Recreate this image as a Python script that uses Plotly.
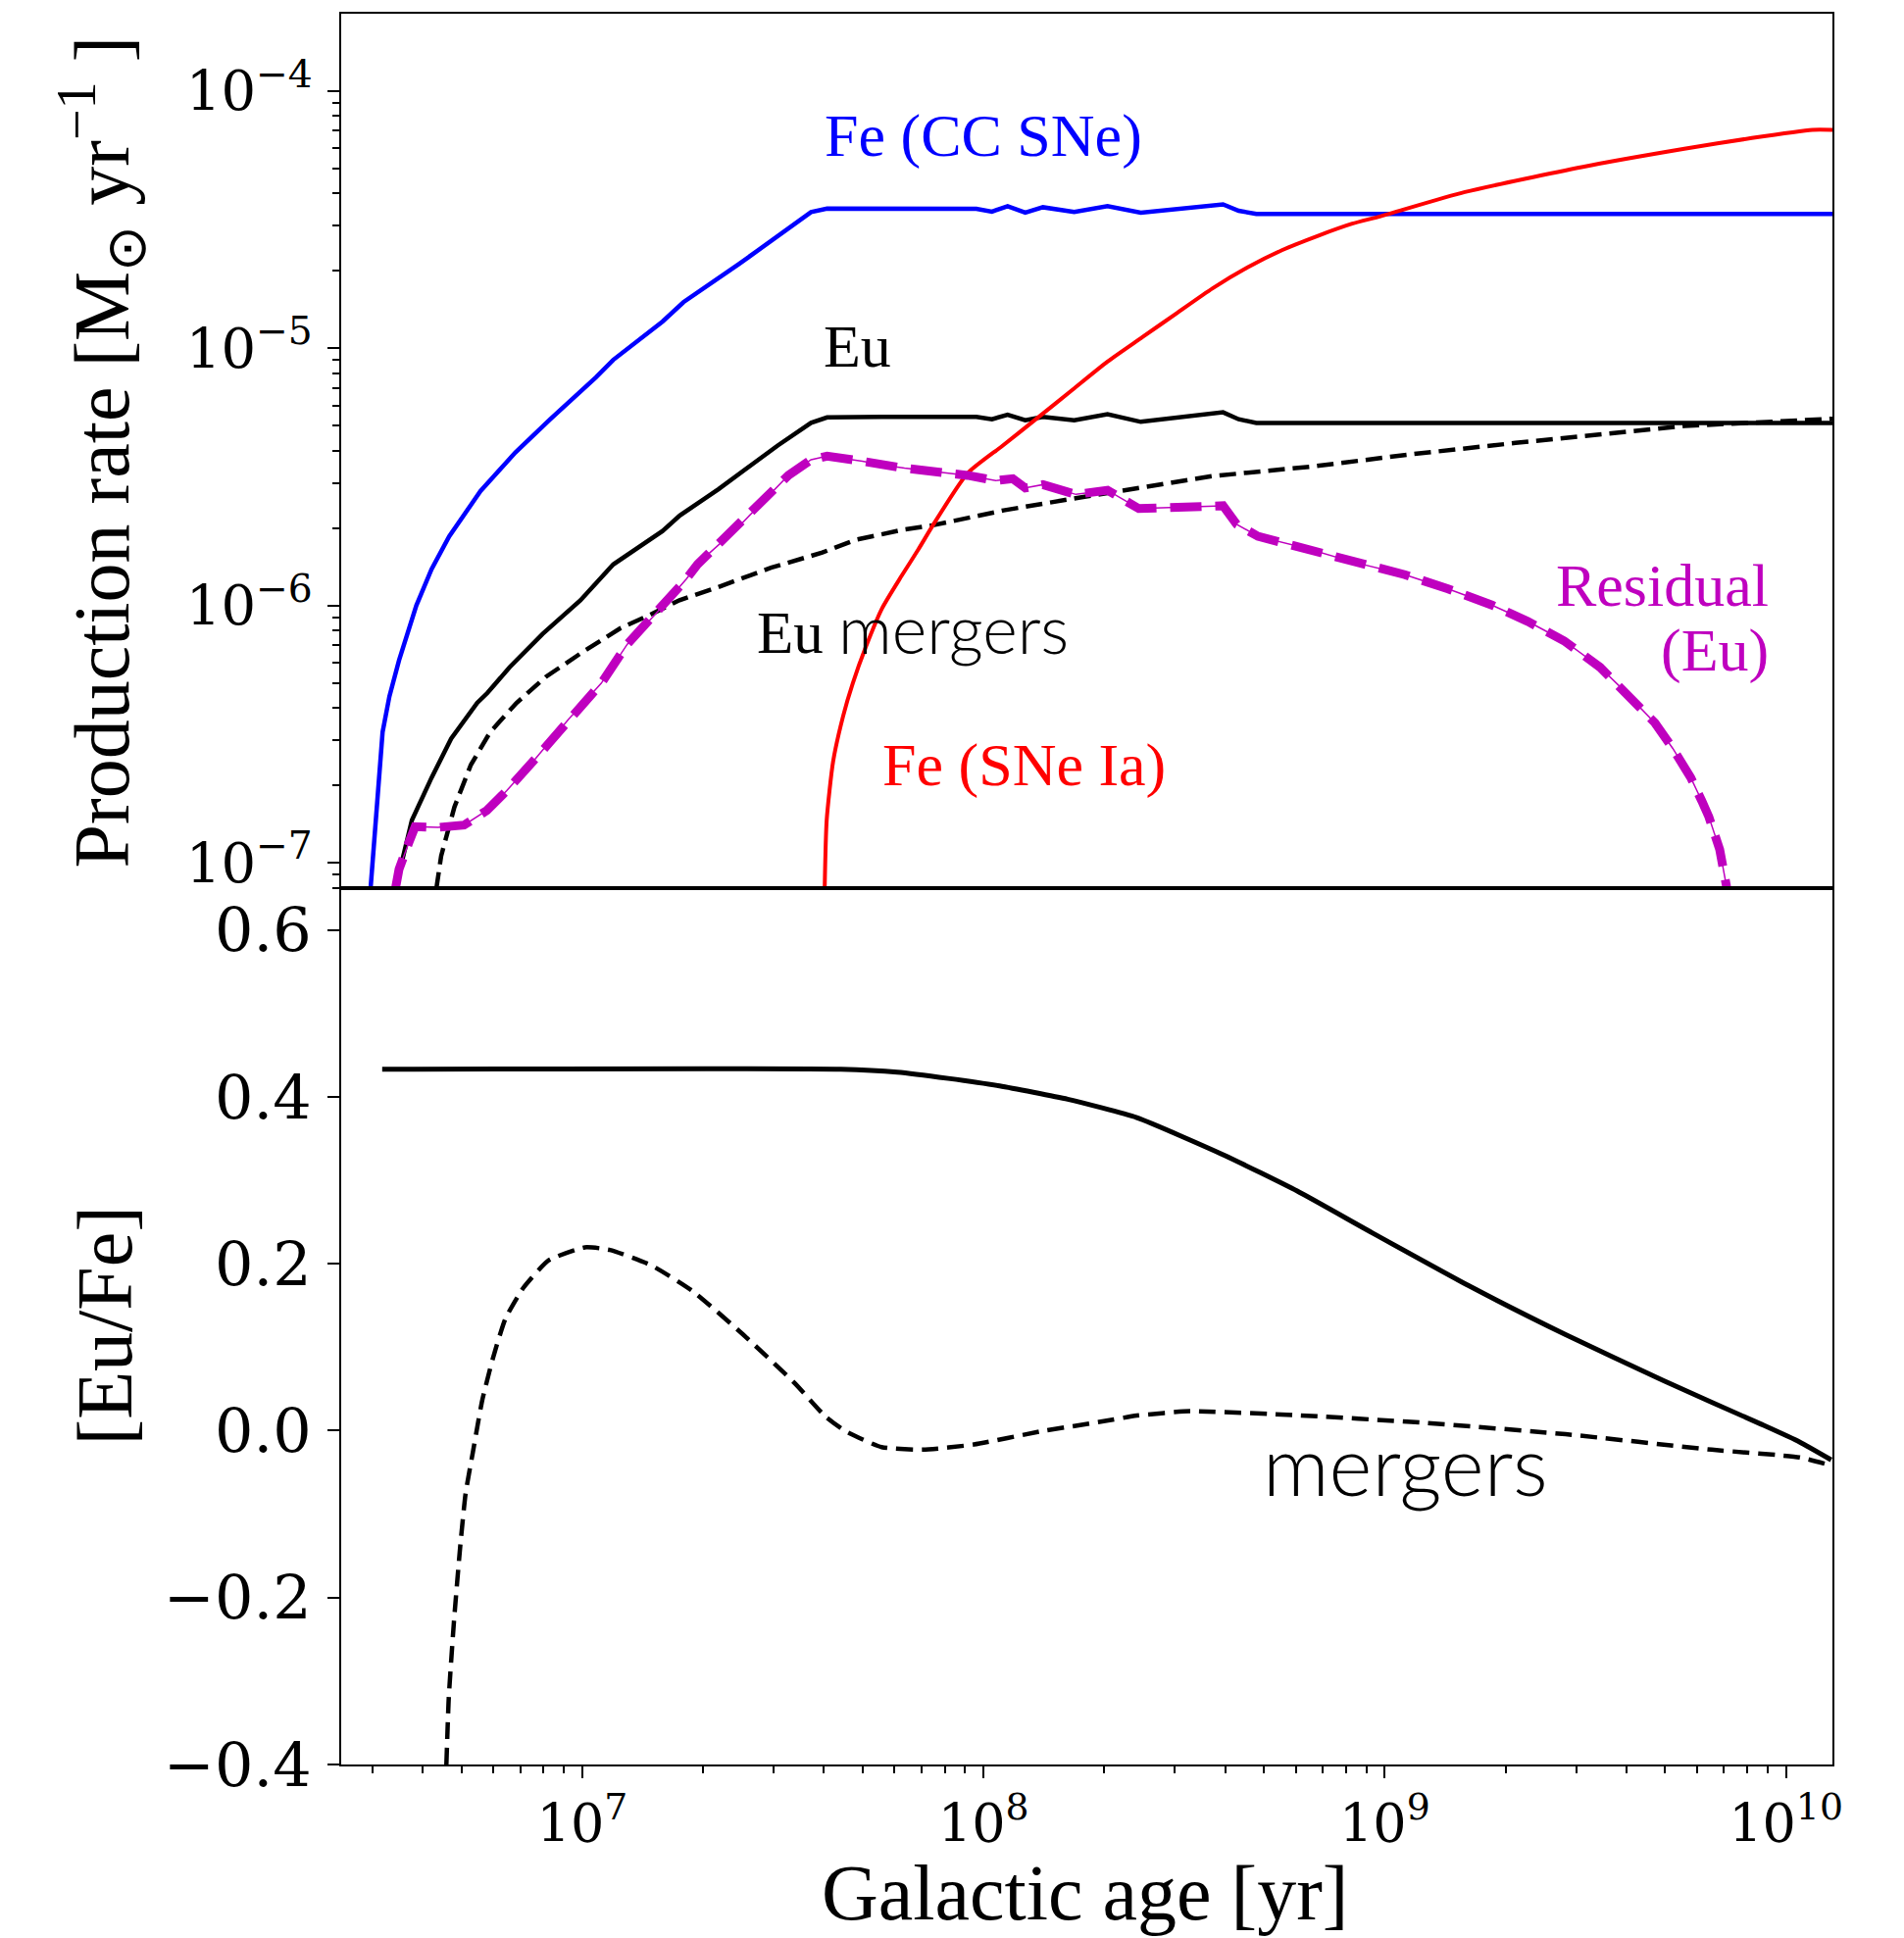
import numpy as np
import plotly.graph_objects as go

# ---------------- data ----------------
# Top panel: production rates, stored as log10(age/yr) and log10(rate / Msun yr^-1)
fe_cc_log_age = [6.472, 6.502, 6.519, 6.543, 6.586, 6.624, 6.668, 6.746, 6.833, 6.920,
                 7.034, 7.077, 7.200, 7.252, 7.391, 7.570, 7.610, 7.747, 7.982, 8.021,
                 8.060, 8.104, 8.148, 8.226, 8.309, 8.392, 8.597, 8.636, 8.680, 10.116]
fe_cc_log_rate = [-7.10, -6.492, -6.353, -6.213, -6.000, -5.859, -5.731, -5.555, -5.405, -5.276,
                  -5.113, -5.045, -4.896, -4.821, -4.672, -4.471, -4.457, -4.457, -4.458, -4.469,
                  -4.448, -4.473, -4.452, -4.470, -4.448, -4.473, -4.441, -4.466, -4.478, -4.478]

eu_log_age = [6.534, 6.575, 6.624, 6.673, 6.738, 6.763, 6.819, 6.901, 6.995, 7.077,
              7.200, 7.243, 7.339, 7.487, 7.570, 7.610, 7.747, 7.982, 8.021, 8.060,
              8.104, 8.148, 8.226, 8.309, 8.392, 8.597, 8.636, 8.680, 10.116]
eu_log_rate = [-7.10, -6.834, -6.669, -6.517, -6.378, -6.340, -6.239, -6.110, -5.980, -5.840,
               -5.710, -5.650, -5.548, -5.378, -5.290, -5.269, -5.267, -5.267, -5.276, -5.258,
               -5.280, -5.267, -5.280, -5.256, -5.286, -5.249, -5.276, -5.290, -5.290]

eu_merg_log_age = [6.636, 6.648, 6.681, 6.722, 6.770, 6.836, 6.909, 7.003, 7.096, 7.163,
                   7.242, 7.308, 7.339, 7.470, 7.598, 7.680, 7.800, 7.873, 8.050, 8.221,
                   8.570, 8.822, 9.066, 9.326, 9.747, 10.116]
eu_merg_log_rate = [-7.10, -6.973, -6.783, -6.619, -6.492, -6.378, -6.277, -6.178, -6.087, -6.040,
                    -5.979, -5.945, -5.928, -5.853, -5.794, -5.745, -5.705, -5.688, -5.630, -5.585,
                    -5.497, -5.459, -5.412, -5.368, -5.302, -5.274]

resid_log_age = [6.534, 6.543, 6.567, 6.583, 6.640, 6.705, 6.762, 6.811, 6.884, 6.966,
                 7.047, 7.112, 7.194, 7.259, 7.287, 7.308, 7.383, 7.514, 7.570, 7.610,
                 7.698, 7.747, 7.803, 7.960, 8.030, 8.073, 8.104, 8.148, 8.230, 8.309,
                 8.387, 8.597, 8.631, 8.684, 8.806, 8.919, 9.050, 9.158, 9.267, 9.356,
                 9.447, 9.537, 9.583, 9.673, 9.718, 9.763, 9.790, 9.808, 9.835, 9.853]
resid_log_rate = [-7.10, -7.024, -6.923, -6.859, -6.862, -6.853, -6.796, -6.720, -6.593, -6.441,
                  -6.302, -6.150, -6.013, -5.897, -5.840, -5.808, -5.704, -5.493, -5.433, -5.419,
                  -5.439, -5.453, -5.466, -5.494, -5.514, -5.507, -5.543, -5.530, -5.568, -5.552,
                  -5.623, -5.612, -5.684, -5.731, -5.778, -5.830, -5.880, -5.935, -5.998, -6.061,
                  -6.137, -6.240, -6.310, -6.455, -6.555, -6.669, -6.758, -6.821, -6.948, -7.10]

fe_ia_log_age = [7.604, 7.609, 7.625, 7.650, 7.674, 7.706, 7.747, 7.796, 7.837, 7.873,
                 7.960, 8.048, 8.135, 8.222, 8.309, 8.396, 8.483, 8.571, 8.658, 8.745,
                 8.832, 8.919, 8.990, 9.200, 9.494, 9.747, 9.915, 10.066, 10.116]
fe_ia_log_rate = [-7.10, -6.834, -6.606, -6.429, -6.302, -6.163, -6.011, -5.884, -5.783, -5.690,
                  -5.486, -5.378, -5.270, -5.161, -5.052, -4.957, -4.862, -4.767, -4.686, -4.618,
                  -4.564, -4.516, -4.487, -4.393, -4.295, -4.225, -4.183, -4.151, -4.151]

# Bottom panel: [Eu/Fe]
eufe_log_age = [6.501, 7.644, 7.785, 7.912, 8.040, 8.210, 8.382, 8.600, 8.782, 8.965,
                9.208, 9.451, 9.694, 9.937, 10.034, 10.113]
eufe_total = [0.433, 0.433, 0.4295, 0.422, 0.413, 0.397, 0.375, 0.330, 0.287, 0.238,
              0.174, 0.115, 0.060, 0.008, -0.0135, -0.035]

eufe_merg_log_age = [6.661, 6.667, 6.680, 6.696, 6.709, 6.727, 6.750, 6.776, 6.808, 6.852,
                     6.916, 7.006, 7.069, 7.172, 7.274, 7.401, 7.529, 7.606, 7.657, 7.746,
                     7.849, 7.976, 8.142, 8.296, 8.382, 8.515, 8.782, 9.086, 9.451, 9.815,
                     10.034, 10.107]
eufe_merg = [-0.40, -0.320, -0.228, -0.136, -0.075, -0.026, 0.0355, 0.085, 0.134, 0.1705,
             0.204, 0.2196, 0.2165, 0.198, 0.1675, 0.115, 0.057, 0.017, -0.001, -0.0197,
             -0.0228, -0.0166, -0.001, 0.011, 0.018, 0.0233, 0.0184, 0.0098, -0.0043, -0.0228,
             -0.032, -0.041]

# ticks
x_major = [1e7, 1e8, 1e9, 1e10]
x_major_text = ["10<sup>7</sup>", "10<sup>8</sup>", "10<sup>9</sup>", "10<sup>10</sup>"]
x_minor = [m * 10 ** e for e in range(6, 11) for m in range(2, 10)]
y1_major = [1e-7, 1e-6, 1e-5, 1e-4]
y1_major_text = ["10<sup>−7</sup>", "10<sup>−6</sup>", "10<sup>−5</sup>", "10<sup>−4</sup>"]
y1_minor = [m * 10.0 ** e for e in range(-8, -3) for m in range(2, 10)]
y2_major = [-0.4, -0.2, 0.0, 0.2, 0.4, 0.6]
y2_major_text = ["−0.4", "−0.2", "0.0", "0.2", "0.4", "0.6"]

# ---------------- figure ----------------
W, H = 1942, 1977
OFF = 8  # default page body margin
ML, MR, MT, MB = 340, 81, 4, 185
PW, PH = W - ML - MR, H - MT - MB
split = (H - MB - (905 - OFF)) / PH

BLUE, RED, MAG = "#0000ff", "#ff0000", "#bf00bf"
SERIF = "Liberation Serif"
TICKF = "DejaVu Serif"

def p10(a):
    return list(10.0 ** np.array(a))

fig = go.Figure()
fig.add_trace(go.Scatter(x=p10(fe_cc_log_age), y=p10(fe_cc_log_rate), mode="lines",
                         line=dict(color=BLUE, width=4.5), xaxis="x", yaxis="y"))
fig.add_trace(go.Scatter(x=p10(eu_log_age), y=p10(eu_log_rate), mode="lines",
                         line=dict(color="black", width=4.5), xaxis="x", yaxis="y"))
fig.add_trace(go.Scatter(x=p10(eu_merg_log_age), y=p10(eu_merg_log_rate), mode="lines",
                         line=dict(color="black", width=4.5, dash="17px,8px"), xaxis="x", yaxis="y"))
fig.add_trace(go.Scatter(x=p10(fe_ia_log_age), y=p10(fe_ia_log_rate), mode="lines", line_shape="spline",
                         line=dict(color=RED, width=4, smoothing=0.6), xaxis="x", yaxis="y"))
fig.add_trace(go.Scatter(x=p10(resid_log_age), y=p10(resid_log_rate), mode="lines",
                         line=dict(color=MAG, width=9, dash="32px,14px"), xaxis="x", yaxis="y"))
fig.add_trace(go.Scatter(x=p10(resid_log_age), y=p10(resid_log_rate), mode="lines",
                         line=dict(color=MAG, width=1.5), xaxis="x", yaxis="y"))

fig.add_trace(go.Scatter(x=p10(eufe_log_age), y=eufe_total, mode="lines", line_shape="spline",
                         line=dict(color="black", width=5, smoothing=0.5), xaxis="x2", yaxis="y2"))
fig.add_trace(go.Scatter(x=p10(eufe_merg_log_age), y=eufe_merg, mode="lines", line_shape="spline",
                         line=dict(color="black", width=4.5, dash="17px,9px", smoothing=0.5),
                         xaxis="x2", yaxis="y2"))

xr = [6.3988, 10.116]
axis_common = dict(showline=True, linecolor="black", linewidth=2, mirror=True,
                   showgrid=False, zeroline=False)

fig.update_layout(
    width=W, height=H, showlegend=False,
    paper_bgcolor="white", plot_bgcolor="white",
    margin=dict(l=ML, r=MR, t=MT, b=MB),
    xaxis=dict(type="log", range=xr, domain=[0, 1], anchor="y", showticklabels=False,
               ticks="", **axis_common),
    yaxis=dict(type="log", range=[-7.098, -3.700], domain=[split, 1], anchor="x",
               tickmode="array", tickvals=y1_major, ticktext=y1_major_text,
               ticks="outside", ticklen=12, tickwidth=2, tickcolor="black",
               ticklabelstandoff=4,
               minor=dict(tickmode="array", tickvals=y1_minor, ticks="outside",
                          ticklen=7, tickwidth=1.5, tickcolor="black", showgrid=False),
               tickfont=dict(family=TICKF, size=56, color="black"), **axis_common),
    xaxis2=dict(type="log", range=xr, domain=[0, 1], anchor="y2",
                tickmode="array", tickvals=x_major, ticktext=x_major_text,
                ticks="outside", ticklen=12, tickwidth=2, tickcolor="black",
                ticklabelstandoff=0,
                minor=dict(tickmode="array", tickvals=x_minor, ticks="outside",
                           ticklen=7, tickwidth=1.5, tickcolor="black", showgrid=False),
                tickfont=dict(family=TICKF, size=54, color="black"), **axis_common),
    yaxis2=dict(range=[-0.4, 0.65], domain=[0, split], anchor="x2",
                tickmode="array", tickvals=y2_major, ticktext=y2_major_text,
                ticks="outside", ticklen=12, tickwidth=2, tickcolor="black",
                ticklabelstandoff=4,
                tickfont=dict(family=TICKF, size=62, color="black"), **axis_common),
)

def px_x(X):
    return (X - OFF - ML) / PW

def px_y(Y):
    return (H - MB - (Y - OFF)) / PH

ann = []
# axis titles
ann.append(dict(text="Production rate [M<sub>⊙</sub> yr<sup>−1</sup> ]", textangle=-90,
                xref="paper", yref="paper", x=px_x(104), y=px_y(460),
                xanchor="center", yanchor="middle", showarrow=False,
                font=dict(family=SERIF, size=80, color="black")))
ann.append(dict(text="[Eu/Fe]", textangle=-90,
                xref="paper", yref="paper", x=px_x(107), y=px_y(1352),
                xanchor="center", yanchor="middle", showarrow=False,
                font=dict(family=SERIF, size=80, color="black")))
ann.append(dict(text="Galactic age [yr]",
                xref="paper", yref="paper", x=px_x(1106), y=px_y(1931),
                xanchor="center", yanchor="middle", showarrow=False,
                font=dict(family=SERIF, size=80, color="black")))

# in-plot labels (data coordinates: log10 values on log axes)
def lab(text, lx, ly, color, family, size, xanchor="center", xref="x", yref="y", weight=400):
    ann.append(dict(text=text, x=lx, y=ly, xref=xref, yref=yref, xanchor=xanchor,
                    yanchor="middle", showarrow=False,
                    font=dict(family=family, size=size, color=color, weight=weight)))

lab("Fe (CC SNe)", 8.000, -4.176, BLUE, SERIF, 62)
lab("Eu", 7.686, -4.992, "black", SERIF, 62)
lab("Eu", 7.518, -6.104, "black", SERIF, 61)
lab("mergers", 7.925, -6.085, "black", "Lato", 68, weight=300)
lab("Fe (SNe Ia)", 8.100, -6.618, RED, SERIF, 62)
lab("Residual", 9.962, -5.920, MAG, SERIF, 62, xanchor="right")
lab("(Eu)", 9.962, -6.176, MAG, SERIF, 62, xanchor="right")
lab("mergers", 9.051, -0.040, "black", "Lato", 84, xref="x2", yref="y2", weight=300)

fig.update_layout(annotations=ann)
fig.write_html("out.html")
